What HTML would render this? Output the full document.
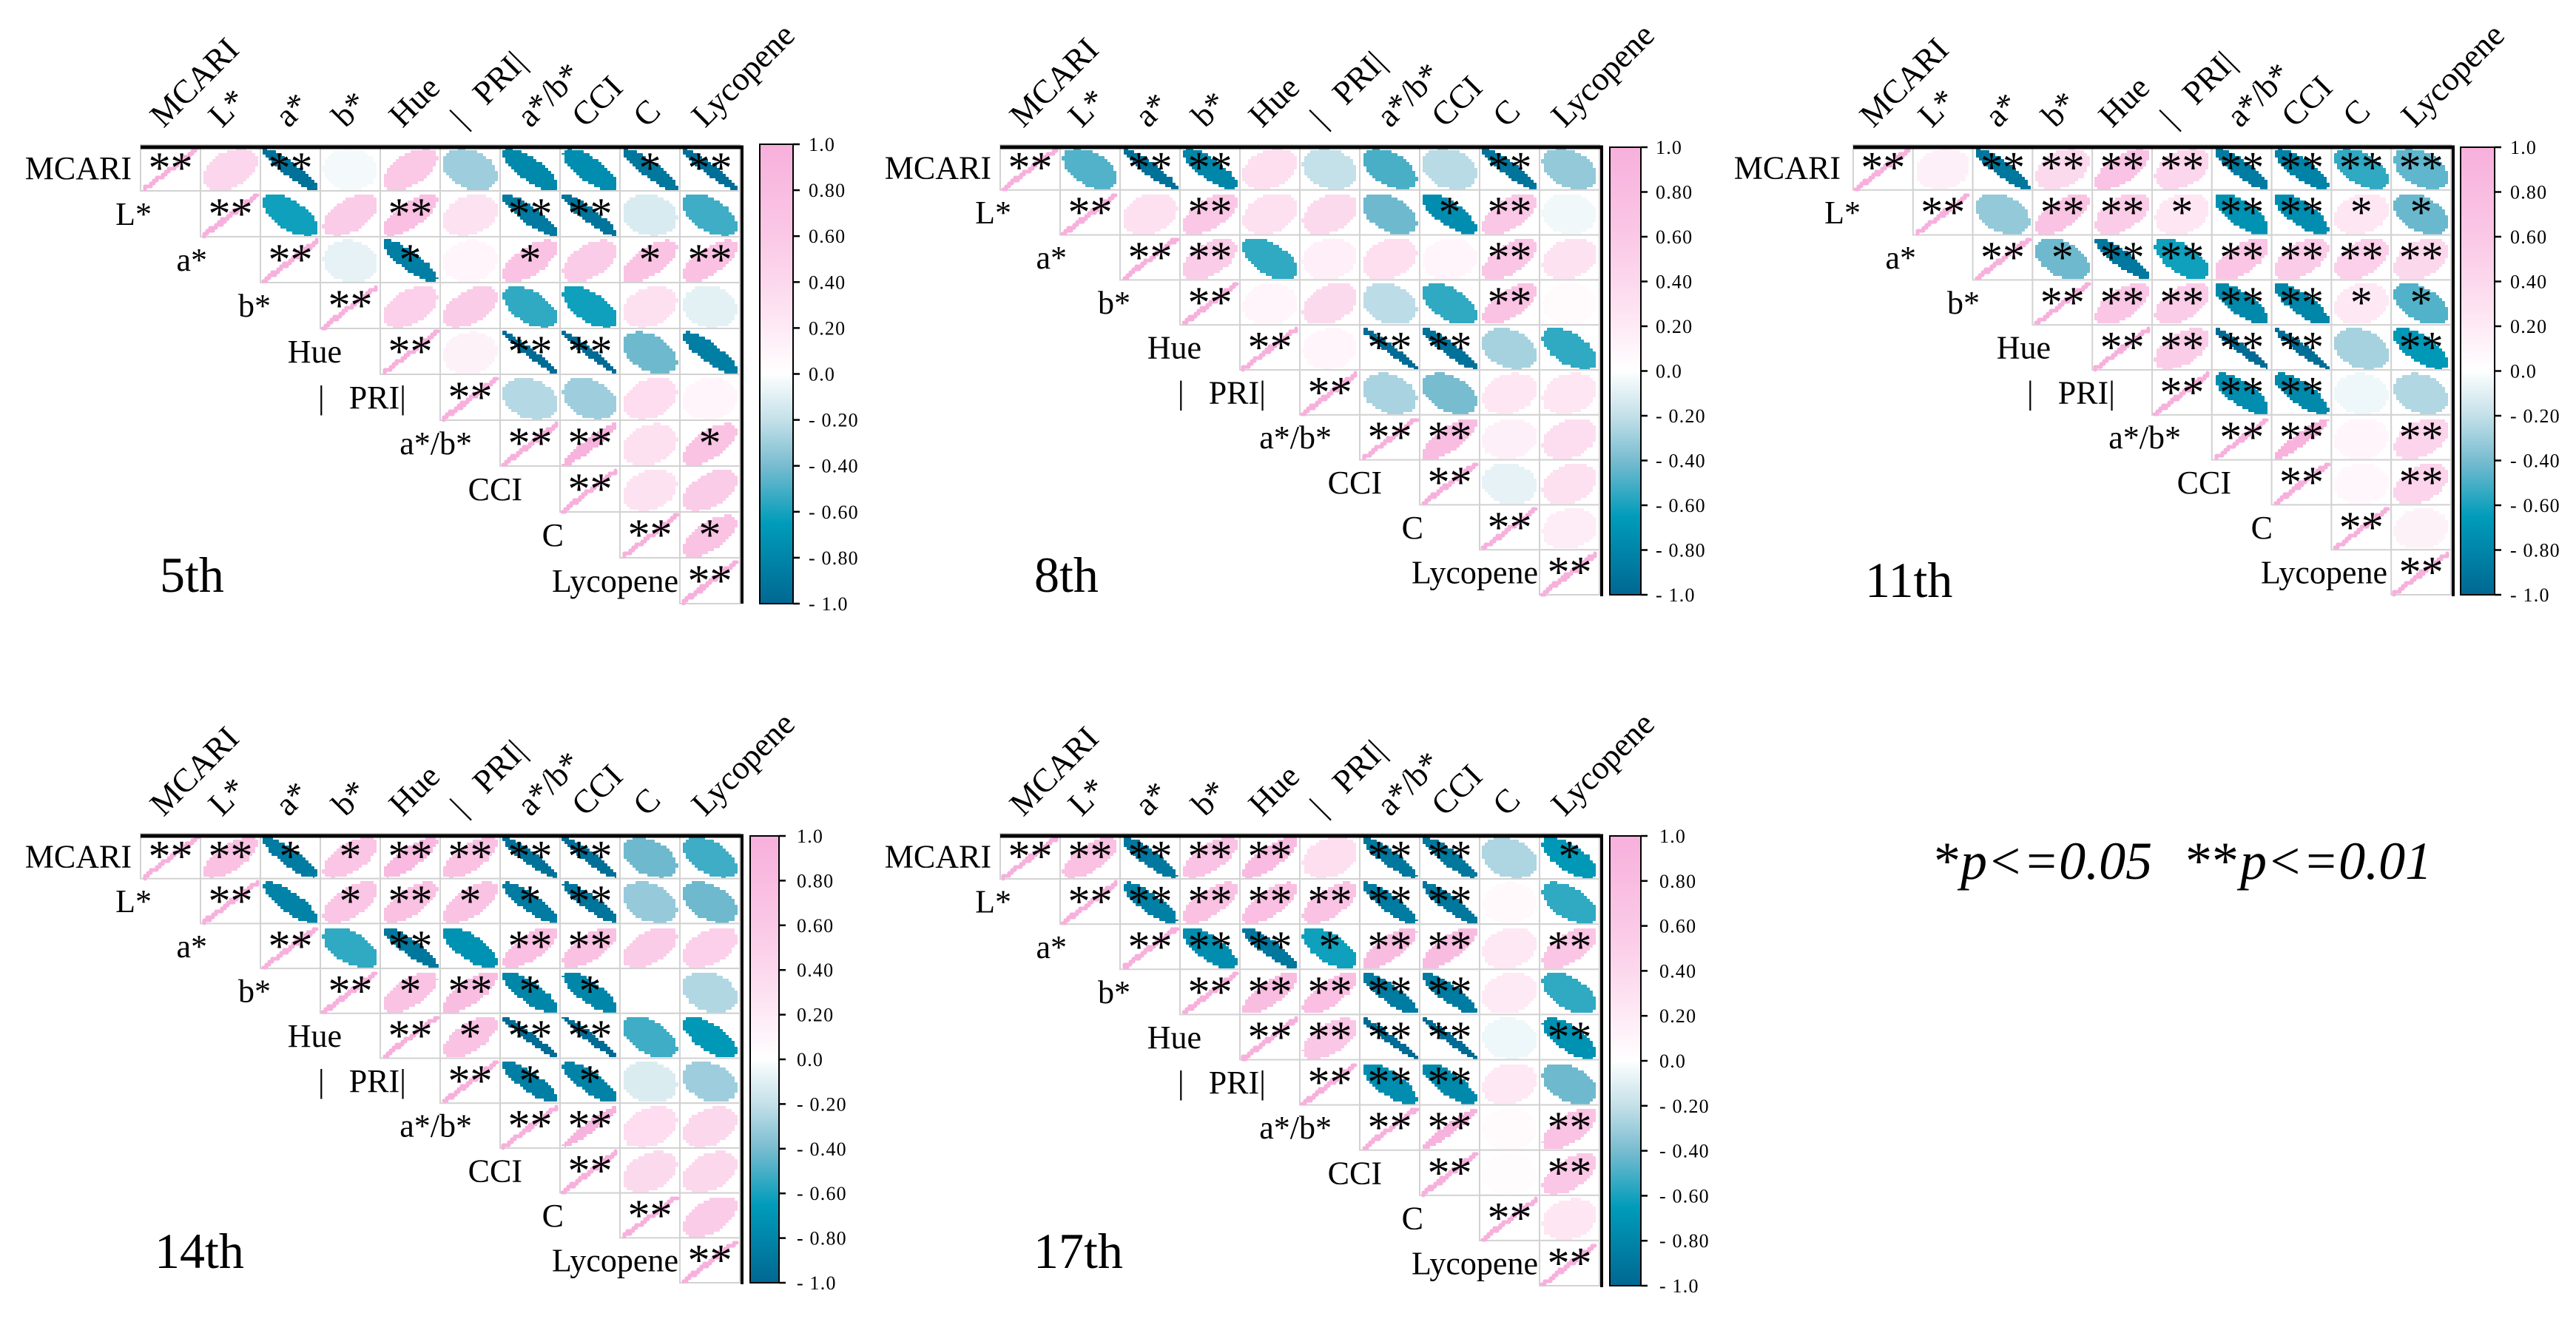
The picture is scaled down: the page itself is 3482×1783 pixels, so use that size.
<!DOCTYPE html>
<html lang="en">
<head>
<meta charset="utf-8">
<title>Correlation matrices by storage day</title>
<style>
html,body{margin:0;padding:0;background:#fff;}
svg{display:block;font-family:"Liberation Serif","Times New Roman",serif;}
</style>
</head>
<body>
<svg id="figure" xmlns="http://www.w3.org/2000/svg" width="3482" height="1783" viewBox="0 0 3482 1783">
<rect x="0" y="0" width="3482" height="1783" fill="#ffffff"/>
<g fill="#000" font-size="72">
<text x="2614" y="1188">*</text>
<text x="2650" y="1188" font-style="italic">p&lt;=0.05</text>
<text x="2954" y="1188">**</text>
<text x="3028" y="1188" font-style="italic">p&lt;=0.01</text>
</g>
</svg>
<script>
const variableLabels = ["MCARI","L*","a*","b*","Hue","|   PRI|","a*/b*","CCI","C","Lycopene"];
const tickValues = [1,0.8,0.6,0.4,0.2,0,-0.2,-0.4,-0.6,-0.8,-1];
const tickLabels = ["1.0","0.80","0.60","0.40","0.20","0.0","- 0.20","- 0.40","- 0.60","- 0.80","- 1.0"];

const values5th = [
[1,.42,-.93,-.03,.6,-.3,-.78,-.75,-.9,-.95],
[1,-.62,.55,.75,.28,-.88,-.92,-.13,-.52],
[1,-.08,-.85,.1,.68,.55,.68,.72],
[1,.5,.55,-.55,-.62,.3,-.09],
[1,.12,-.975,-.975,-.42,-.85],
[1,-.24,-.3,.35,.1],
[1,.96,.3,.68],
[1,.28,.55],
[1,.68],
[1]];
const stars5th = [
[2,0,2,0,0,0,0,0,1,2],
[2,0,0,2,0,2,2,0,0],
[2,0,1,0,1,0,1,2],
[2,0,0,0,0,0,0],
[2,0,2,2,0,0],
[2,0,0,0,0],
[2,2,0,1],
[2,0,0],
[2,1],
[2]];

const values8th = [
[1,-.48,-.93,-.8,.32,-.2,-.5,-.23,-.92,-.33],
[1,.3,.62,.3,.38,-.42,-.75,.62,-.04],
[1,.55,-.55,.15,.32,.1,.65,.28],
[1,.1,.38,-.22,-.55,.68,.04],
[1,.1,-.975,-.93,-.28,-.55],
[1,-.27,-.4,.25,.25],
[1,.78,.14,.33],
[1,-.08,.3],
[1,.18],
[1]];
const stars8th = [
[2,0,2,2,0,0,0,0,2,0],
[2,0,2,0,0,0,1,2,0],
[2,2,0,0,0,0,2,0],
[2,0,0,0,0,2,0],
[2,0,2,2,0,0],
[2,0,0,0,0],
[2,2,0,0],
[2,0,0],
[2,0],
[2]];

const values11th = [
[1,.14,-.9,.38,.7,.42,-.87,-.82,-.55,-.45],
[1,-.33,.68,.55,.25,-.72,-.75,.25,-.43],
[1,-.42,-.89,-.62,.65,.55,.5,.4],
[1,.65,.55,-.78,-.8,.22,-.48],
[1,.55,-.97,-.96,-.28,-.68],
[1,-.75,-.78,-.05,-.25],
[1,.95,.1,.45],
[1,.08,.45],
[1,.12],
[1]];
const stars11th = [
[2,0,2,2,2,2,2,2,2,2],
[2,0,2,2,1,2,2,1,1],
[2,1,2,2,2,2,2,2],
[2,2,2,2,2,1,1],
[2,2,2,2,0,2],
[2,2,2,0,0],
[2,2,0,2],
[2,0,2],
[2,0],
[2]];

const values14th = [
[1,.72,-.87,.65,.85,.72,-.93,-.95,-.42,-.52],
[1,-.82,.65,.72,.68,-.87,-.91,-.32,-.42],
[1,-.55,-.9,-.72,.75,.72,.55,.5],
[1,.68,.78,-.8,-.8,0,-.25],
[1,.68,-.975,-.975,-.52,-.68],
[1,-.85,-.82,-.12,-.3],
[1,.97,.35,.4],
[1,.38,.4],
[1,.55],
[1]];
const stars14th = [
[2,2,1,1,2,2,2,2,0,0],
[2,0,1,2,1,1,2,0,0],
[2,0,2,0,2,2,0,0],
[2,1,2,1,1,0,0],
[2,1,2,2,0,0],
[2,1,1,0,0],
[2,2,0,0],
[2,0,0],
[2,0],
[2]];

const values17th = [
[1,.72,-.89,.7,.82,.32,-.9,-.9,-.26,-.68],
[1,-.84,.72,.75,.68,-.87,-.9,.06,-.55],
[1,-.75,-.9,-.62,.8,.8,.22,.65],
[1,.78,.75,-.87,-.87,.2,-.55],
[1,.62,-.975,-.975,-.05,-.72],
[1,-.75,-.78,.22,-.42],
[1,.97,.04,.68],
[1,.03,.62],
[1,.25],
[1]];
const stars17th = [
[2,2,2,2,2,0,2,2,0,1],
[2,2,2,2,2,2,2,0,0],
[2,2,2,1,2,2,0,2],
[2,2,2,2,2,0,0],
[2,2,2,2,0,2],
[2,2,2,0,0],
[2,2,0,2],
[2,0,2],
[2,0],
[2]];

const colorScale = [
{v:-1,c:[0,104,146]},
{v:-.65,c:[0,156,186]},
{v:-.4,c:[120,188,208]},
{v:-.2,c:[196,224,233]},
{v:-.03,c:[244,250,251]},
{v:0,c:[255,255,255]},
{v:.2,c:[254,234,245]},
{v:.4,c:[252,216,237]},
{v:.6,c:[251,200,230]},
{v:.8,c:[249,188,225]},
{v:1,c:[247,176,220]}];

const panelLayouts = [
{name:"5th",values:values5th,stars:stars5th,x0:190,x1:1000,y0:196,y1:816,lineY:199,lineEnd:816,barX0:1027,barX1:1072,barY0:195,barY1:816,labelX:1093,titleX:216,titleY:800,shift:0,colShift:0},
{name:"8th",values:values8th,stars:stars8th,x0:1352,x1:2162,y0:196,y1:804,lineY:199,lineEnd:806,barX0:2176,barX1:2218,barY0:199,barY1:804,labelX:2238,titleX:1398,titleY:800,shift:0,colShift:0},
{name:"11th",values:values11th,stars:stars11th,x0:2505,x1:3313,y0:196,y1:804,lineY:199,lineEnd:806,barX0:3326,barX1:3372,barY0:199,barY1:804,labelX:3393,titleX:2521,titleY:807,shift:-5,colShift:-4},
{name:"14th",values:values14th,stars:stars14th,x0:190,x1:1000,y0:1127,y1:1734,lineY:1130,lineEnd:1736,barX0:1014,barX1:1053,barY0:1130,barY1:1734,labelX:1077,titleX:209,titleY:1714,shift:0,colShift:0},
{name:"17th",values:values17th,stars:stars17th,x0:1352,x1:2162,y0:1127,y1:1738,lineY:1130,lineEnd:1740,barX0:2176,barX1:2218,barY0:1130,barY1:1738,labelX:2243,titleX:1397,titleY:1714,shift:0,colShift:0}
];
const rowLabelEnds = [-12,15,90,176,272,359,448,516,572,727];
const columnLabelStarts = [11,90,180,257,334,417,507,581,664,743];

const SVG_NS = "http://www.w3.org/2000/svg";
const figure = document.getElementById("figure");

function make(tag, parent){
  const el = document.createElementNS(SVG_NS, tag);
  parent.appendChild(el);
  return el;
}
function colorFor(v){
  const r = Math.max(-1, Math.min(1, v));
  for (let i = 0; i < colorScale.length - 1; i++){
    const a = colorScale[i], b = colorScale[i+1];
    if (r <= b.v){
      const t = (r - a.v) / (b.v - a.v);
      const c = a.c.map((ch, k) => Math.round(ch + (b.c[k] - ch) * t));
      return "rgb(" + c.join(",") + ")";
    }
  }
  return "rgb(" + colorScale[colorScale.length-1].c.join(",") + ")";
}
function ellipsePath(cx, cy, hx, hy, r){
  const d = Math.acos(Math.max(-1, Math.min(1, r)));
  const grid = 4;
  let path = "", lastX = null, lastY = null;
  for (let i = 0; i <= 180; i++){
    const t = i / 180 * Math.PI * 2;
    const px = Math.round((cx + hx * Math.cos(t + d / 2)) / grid) * grid;
    const py = Math.round((cy - hy * Math.cos(t - d / 2)) / grid) * grid;
    if (lastX === null){ path += "M" + px + " " + py; }
    else if (px !== lastX || py !== lastY){ path += "L" + px + " " + lastY + "L" + px + " " + py; }
    lastX = px; lastY = py;
  }
  return path + "Z";
}

const defs = make("defs", figure);
const gradient = make("linearGradient", defs);
gradient.setAttribute("id", "bar-gradient");
gradient.setAttribute("x1", "0"); gradient.setAttribute("y1", "1");
gradient.setAttribute("x2", "0"); gradient.setAttribute("y2", "0");
colorScale.forEach(s => {
  const stop = make("stop", gradient);
  stop.setAttribute("offset", ((s.v + 1) / 2).toFixed(4));
  stop.setAttribute("stop-color", colorFor(s.v));
});

panelLayouts.forEach(p => {
  const n = variableLabels.length;
  const cw = (p.x1 - p.x0) / n;
  const ch = (p.y1 - p.y0) / n;
  const xAxis = c => p.x0 + c * cw;
  const yAxis = r => p.y0 + r * ch;
  const barY = v => p.barY0 + (1 - v) / 2 * (p.barY1 - p.barY0);

  const g = make("g", figure);
  
  

  for (let r = 0; r < n; r++){
    for (let k = 0; k < p.values[r].length; k++){
      const c = r + k;
      const val = p.values[r][k];
      const cx = xAxis(c) + cw / 2;
      const cy = yAxis(r) + ch / 2;

      const cell = make("rect", g);
      
      
      cell.setAttribute("x", xAxis(c));
      cell.setAttribute("y", yAxis(r));
      cell.setAttribute("width", cw);
      cell.setAttribute("height", ch);
      cell.setAttribute("fill", "#ffffff");
      cell.setAttribute("stroke", "#d2d2d2");
      cell.setAttribute("stroke-width", "2");

      const mark = make("path", g);
      
      
      mark.setAttribute("d", ellipsePath(cx, cy + 2, cw * 0.44, ch * 0.44, val));
      mark.setAttribute("fill", colorFor(val));
      mark.setAttribute("stroke", colorFor(val));
      mark.setAttribute("stroke-width", Math.abs(val) >= 0.99 ? "5" : "2");
      mark.setAttribute("stroke-linejoin", "round");
    }
  }
  for (let r = 0; r < n; r++){
    for (let k = 0; k < p.stars[r].length; k++){
      const count = p.stars[r][k];
      if (!count) continue;
      const cx = xAxis(r + k) + cw / 2;
      const cy = yAxis(r) + ch / 2;
      const star = make("text", g);
      
      
      star.setAttribute("x", cx);
      star.setAttribute("y", cy + 20);
      star.setAttribute("text-anchor", "middle");
      star.setAttribute("font-size", "60");
      star.setAttribute("fill", "#000");
      star.textContent = count === 2 ? "**" : "*";
    }
  }

  const topLine = make("rect", g);
  
  
  topLine.setAttribute("x", p.x0);
  topLine.setAttribute("y", p.lineY - 2.5);
  topLine.setAttribute("width", p.x1 - p.x0 + 5);
  topLine.setAttribute("height", 5);
  topLine.setAttribute("fill", "#000");

  const rightLine = make("rect", g);
  
  
  rightLine.setAttribute("x", p.x1 + 1);
  rightLine.setAttribute("y", p.lineY - 2.5);
  rightLine.setAttribute("width", 4);
  rightLine.setAttribute("height", p.lineEnd - p.lineY + 2.5);
  rightLine.setAttribute("fill", "#000");

  variableLabels.forEach((label, i) => {
    const rowLabel = make("text", g);
    
    
    rowLabel.setAttribute("x", p.x0 + rowLabelEnds[i] + p.shift);
    rowLabel.setAttribute("y", yAxis(i) + ch / 2 + 15);
    rowLabel.setAttribute("text-anchor", "end");
    rowLabel.setAttribute("font-size", "44");
    rowLabel.style.whiteSpace = "pre";
    rowLabel.textContent = label;

    const colX = p.x0 + columnLabelStarts[i] + 20 + p.colShift;
    const colY = p.y0 - 22;
    const colLabel = make("text", g);
    
    
    colLabel.setAttribute("transform", "translate(" + colX + " " + colY + ") rotate(-45)");
    colLabel.setAttribute("font-size", "45");
    colLabel.style.whiteSpace = "pre";
    colLabel.textContent = label;
  });

  const title = make("text", g);
  
  
  title.setAttribute("x", p.titleX);
  title.setAttribute("y", p.titleY);
  title.setAttribute("font-size", "68");
  title.textContent = p.name;

  const bar = make("rect", g);
  
  
  bar.setAttribute("x", p.barX0);
  bar.setAttribute("y", p.barY0);
  bar.setAttribute("width", p.barX1 - p.barX0);
  bar.setAttribute("height", p.barY1 - p.barY0);
  bar.setAttribute("fill", "url(#bar-gradient)");
  bar.setAttribute("stroke", "#000");
  bar.setAttribute("stroke-width", "2");

  tickValues.forEach((v, i) => {
    const tick = make("line", g);
    
    
    tick.setAttribute("x1", p.barX1);
    tick.setAttribute("x2", p.barX1 + 9);
    tick.setAttribute("y1", barY(v));
    tick.setAttribute("y2", barY(v));
    tick.setAttribute("stroke", "#000");
    tick.setAttribute("stroke-width", "2.5");

    const tickText = make("text", g);
    
    
    tickText.setAttribute("x", p.labelX);
    tickText.setAttribute("y", barY(v) + 9);
    tickText.setAttribute("font-size", "26");
    tickText.setAttribute("letter-spacing", "1.2");
    tickText.textContent = tickLabels[i];
  });
});
</script>
</body>
</html>
